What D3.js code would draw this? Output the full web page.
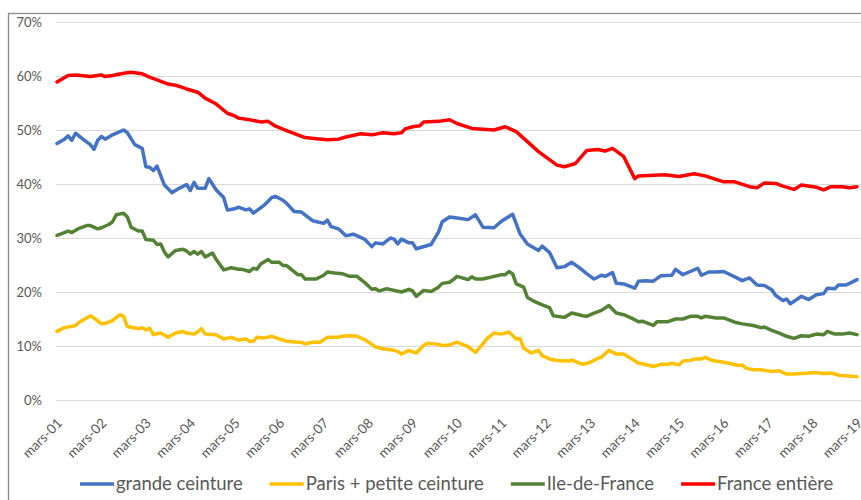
<!DOCTYPE html>
<html>
<head>
<meta charset="utf-8">
<script src="https://cdn.jsdelivr.net/npm/d3@7"></script>
<style>
  body { margin: 0; background: #fff; }
  svg text { font-family: Lato, "Noto Sans", sans-serif; fill: #595959; }
</style>
</head>
<body>
<div id="app"></div>
<script>
// month index (0 = mars 2001) and share in %
const grandeCeinture = [
  [0,47.5],[2,48.3],[3,48.9],[4,48.1],[5,49.4],[7,48.3],[9,47.3],[10,46.4],[11,48.1],[12,48.8],
  [13,48.3],[15,49.1],[17,49.7],[18,50.0],[19,49.5],[21,47.3],[23,46.6],[24,43.2],[25,43.1],[26,42.5],
  [27,43.3],[29,39.8],[31,38.4],[33,39.2],[35,39.9],[36,38.8],[37,40.3],[38,39.2],[40,39.2],[41,41.0],
  [43,38.9],[45,37.5],[46,35.2],[48,35.4],[49,35.7],[51,35.2],[52,35.4],[53,34.6],[56,36.1],[58,37.5],
  [59,37.7],[61,37.0],[62,36.4],[64,34.9],[66,34.8],[69,33.2],[72,32.7],[73,33.3],[74,32.1],[76,31.7],
  [78,30.4],[80,30.7],[83,29.8],[85,28.4],[86,29.1],[88,28.9],[90,30.0],[91,29.8],[92,28.9],[93,29.8],
  [95,29.1],[96,29.1],[97,28.0],[101,28.8],[103,31.1],[104,33.0],[106,33.9],[108,33.7],[111,33.4],[113,34.3],
  [115,32.0],[118,31.9],[120,33.1],[123,34.4],[125,30.8],[127,28.9],[130,27.7],[131,28.5],[133,27.3],[135,24.5],
  [137,24.7],[139,25.5],[141,24.5],[143,23.4],[145,22.4],[147,23.1],[148,22.9],[150,23.6],[151,21.6],[153,21.5],
  [156,20.7],[157,22.0],[159,22.1],[161,22.0],[163,23.0],[166,23.1],[167,24.2],[169,23.2],[171,23.8],[173,24.4],
  [174,23.1],[176,23.7],[178,23.7],[180,23.8],[183,22.8],[185,22.1],[187,22.6],[189,21.3],[191,21.2],[193,20.4],
  [194,19.4],[196,18.4],[197,18.7],[198,17.8],[201,19.2],[203,18.6],[205,19.5],[207,19.7],[208,20.7],[210,20.6],
  [211,21.3],[213,21.3],[214,21.6],[216,22.3]
];

const parisPetiteCeinture = [
  [0,12.7],[2,13.4],[3,13.5],[5,13.8],[6,14.4],[8,15.2],[9,15.6],[10,15.2],[12,14.1],[13,14.2],
  [15,14.7],[16,15.3],[17,15.8],[18,15.5],[19,13.6],[22,13.2],[23,13.4],[24,13.0],[25,13.3],[26,12.1],
  [28,12.4],[30,11.6],[32,12.4],[34,12.7],[35,12.4],[37,12.2],[38,12.6],[39,13.2],[40,12.2],[43,12.1],
  [45,11.3],[47,11.6],[49,11.1],[51,11.3],[52,10.9],[53,10.9],[54,11.6],[56,11.5],[58,11.8],[60,11.3],
  [62,10.9],[65,10.7],[66,10.7],[67,10.4],[69,10.7],[71,10.7],[73,11.6],[76,11.6],[77,11.8],[79,11.9],
  [81,11.8],[83,11.2],[85,10.3],[86,9.8],[88,9.5],[90,9.3],[91,9.2],[92,9.0],[93,8.5],[95,9.2],
  [97,8.7],[99,10.1],[100,10.5],[103,10.3],[104,10.1],[106,10.2],[108,10.7],[111,9.9],[113,8.8],[115,10.4],
  [116,11.3],[118,12.4],[120,12.2],[122,12.6],[124,11.3],[125,11.4],[126,9.6],[128,8.7],[130,9.2],[131,8.2],
  [133,7.6],[135,7.3],[138,7.2],[139,7.4],[142,6.6],[144,7.0],[146,7.7],[147,7.9],[149,9.2],[151,8.5],
  [153,8.5],[155,7.7],[157,6.8],[158,6.7],[161,6.2],[163,6.6],[165,6.6],[166,6.8],[168,6.5],[169,7.2],
  [171,7.3],[172,7.6],[174,7.6],[175,7.9],[177,7.3],[180,7.0],[182,6.7],[184,6.4],[185,6.5],[186,5.9],
  [188,5.6],[190,5.6],[193,5.3],[195,5.4],[197,4.8],[199,4.8],[201,4.9],[205,5.1],[207,4.9],[209,5.0],
  [211,4.6],[213,4.5],[216,4.3]
];

const ileDeFrance = [
  [0,30.5],[2,31.0],[3,31.3],[4,31.0],[6,31.8],[8,32.3],[9,32.3],[11,31.7],[12,31.9],[14,32.5],
  [15,33.0],[16,34.3],[18,34.6],[19,33.9],[20,32.0],[22,31.3],[23,31.3],[24,29.7],[26,29.6],[27,28.8],
  [28,28.9],[29,27.4],[30,26.5],[32,27.7],[34,27.9],[35,27.6],[36,27.0],[37,27.5],[38,27.0],[39,27.5],
  [40,26.5],[42,27.2],[43,26.0],[45,24.1],[47,24.5],[49,24.2],[50,24.2],[52,23.8],[53,24.4],[54,24.2],
  [55,25.2],[57,26.0],[58,25.5],[60,25.5],[61,24.9],[62,24.9],[65,23.2],[66,23.2],[67,22.4],[69,22.4],
  [70,22.4],[72,23.1],[73,23.7],[75,23.5],[77,23.4],[79,22.9],[81,22.9],[83,21.8],[85,20.5],[86,20.6],
  [87,20.2],[89,20.6],[91,20.3],[93,20.0],[95,20.5],[96,20.2],[97,19.2],[99,20.3],[101,20.1],[103,20.9],
  [104,21.6],[106,21.8],[107,22.3],[108,22.9],[111,22.3],[112,22.8],[113,22.4],[115,22.4],[118,22.9],[120,23.2],
  [121,23.2],[122,23.8],[123,23.4],[124,21.5],[126,20.9],[127,19.0],[129,18.2],[131,17.6],[133,17.1],[134,15.6],
  [137,15.3],[139,16.1],[142,15.6],[143,15.5],[145,16.1],[147,16.6],[149,17.5],[151,16.1],[153,15.8],[155,15.2],
  [157,14.5],[158,14.6],[161,13.8],[162,14.5],[165,14.5],[167,15.0],[169,15.0],[171,15.5],[173,15.5],[174,15.2],
  [175,15.5],[178,15.2],[180,15.2],[183,14.4],[185,14.1],[188,13.8],[190,13.4],[191,13.5],[193,12.9],[195,12.4],
  [197,11.8],[199,11.4],[201,11.9],[203,11.8],[205,12.2],[207,12.1],[208,12.7],[210,12.2],[212,12.2],[214,12.4],
  [216,12.1]
];

const franceEntiere = [
  [0,58.9],[3,60.1],[5,60.2],[9,59.9],[12,60.2],[13,59.9],[15,60.1],[18,60.5],[20,60.7],[23,60.4],
  [25,59.8],[27,59.3],[30,58.5],[32,58.3],[35,57.6],[38,57.0],[40,55.9],[43,54.8],[46,53.1],[48,52.6],
  [49,52.2],[52,51.9],[55,51.5],[57,51.6],[59,50.7],[62,49.9],[65,49.1],[67,48.6],[70,48.4],[73,48.2],
  [76,48.3],[78,48.7],[82,49.3],[85,49.1],[88,49.5],[91,49.3],[93,49.5],[94,50.2],[96,50.6],[98,50.8],
  [99,51.5],[103,51.6],[106,51.9],[108,51.2],[112,50.3],[118,50.0],[121,50.6],[124,49.7],[130,46.0],[135,43.5],
  [137,43.2],[140,43.8],[143,46.2],[146,46.4],[148,46.1],[150,46.6],[153,45.1],[156,41.0],[157,41.5],[164,41.7],
  [168,41.4],[172,41.9],[175,41.5],[180,40.4],[183,40.4],[187,39.5],[189,39.3],[191,40.2],[194,40.1],[196,39.6],
  [199,39.0],[201,39.8],[205,39.4],[207,38.9],[209,39.5],[212,39.5],[214,39.3],[216,39.5]
];

const seriesNames = ["grande ceinture", "Paris + petite ceinture", "Ile-de-France", "France entière"];
const seriesColors = ["#4472C4", "#FFC000", "#548235", "#FF0000"];
const seriesData = [grandeCeinture, parisPetiteCeinture, ileDeFrance, franceEntiere];

const tickMonths = [0,12,24,36,48,60,72,84,96,108,120,132,144,156,168,180,192,204,216];
const tickLabels = ["mars-01","mars-02","mars-03","mars-04","mars-05","mars-06","mars-07","mars-08","mars-09","mars-10",
                    "mars-11","mars-12","mars-13","mars-14","mars-15","mars-16","mars-17","mars-18","mars-19"];
const yTicks = [0,10,20,30,40,50,60,70];

// sizing
const width = 861;
const height = 500;

const svg = d3.select("#app")
  .append("svg")
    .attr("width", width)
    .attr("height", height);

// chart frame
svg.append("rect")
  .attr("x", 8.5).attr("y", 13.5)
  .attr("width", 900).attr("height", 600)
  .attr("fill", "none")
  .attr("stroke", "#8c8c8c")
  .attr("stroke-width", 1.3);

const x = d3.scaleLinear().domain([0, 216]).range([57, 857]);
const y = d3.scaleLinear().domain([0, 70]).range([400, 22]);

// gridlines + y labels
svg.append("g")
  .selectAll("line")
  .data(yTicks)
  .enter().append("line")
    .attr("x1", 56).attr("x2", width)
    .attr("y1", d => Math.round(y(d)) + 0.5)
    .attr("y2", d => Math.round(y(d)) + 0.5)
    .attr("stroke", "#d9d9d9")
    .attr("stroke-width", 1);

svg.append("g")
  .selectAll("text")
  .data(yTicks)
  .enter().append("text")
    .attr("x", 42)
    .attr("y", d => y(d))
    .attr("dy", "0.35em")
    .attr("text-anchor", "end")
    .style("font-size", "13px")
    .text(d => d + "%");

// x labels, rotated
svg.append("g")
  .selectAll("text")
  .data(tickMonths)
  .enter().append("text")
    .attr("text-anchor", "end")
    .attr("transform", d => `translate(${x(d) + 6},${424}) rotate(-45)`)
    .style("font-size", "13.5px")
    .text((d, i) => tickLabels[i]);

// lines
const line = d3.line()
  .x(d => x(d[0]))
  .y(d => y(d[1]));

svg.append("g")
  .selectAll("path")
  .data(seriesData)
  .enter().append("path")
    .attr("d", line)
    .attr("fill", "none")
    .attr("stroke", (d, i) => seriesColors[i])
    .attr("stroke-width", 3.5)
    .attr("stroke-linejoin", "round")
    .attr("stroke-linecap", "round");

// legend
const legend = svg.append("g");
let lx = 80;
seriesNames.forEach((name, i) => {
  legend.append("line")
    .attr("x1", lx).attr("x2", lx + 34)
    .attr("y1", 484).attr("y2", 484)
    .attr("stroke", seriesColors[i])
    .attr("stroke-width", 3.5);
  const t = legend.append("text")
    .attr("x", lx + 36)
    .attr("y", 484)
    .attr("dy", "0.35em")
    .style("font-size", "18.5px")
    .text(name);
  lx += 36 + t.node().getComputedTextLength() + 27;
});
</script>
</body>
</html>
